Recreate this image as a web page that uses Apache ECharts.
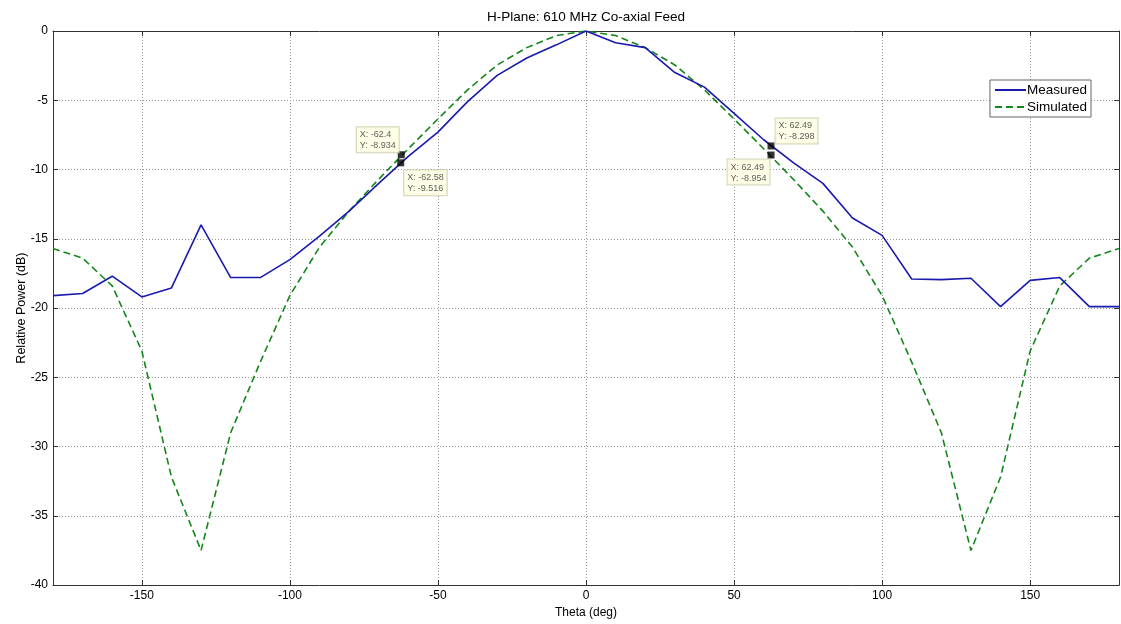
<!DOCTYPE html>
<html><head><meta charset="utf-8">
<script src="https://cdn.jsdelivr.net/npm/echarts@6/dist/echarts.min.js"></script>
<style>html,body{margin:0;padding:0;background:#fff}#c{width:1121px;height:624px}</style>
</head><body><div id="c"></div>
<script>
// ---- data ----
const theta = [-180,-170,-160,-150,-140,-130,-120,-110,-100,-90,-80,-70,-60,-50,-40,-30,-20,-10,0,10,20,30,40,50,60,70,80,90,100,110,120,130,140,150,160,170,180];
const measured = [-19.1,-18.95,-17.7,-19.2,-18.55,-14.0,-17.8,-17.8,-16.5,-14.8,-13.0,-11.0,-9.05,-7.3,-5.1,-3.2,-1.95,-1.0,0,-0.85,-1.2,-3.0,-4.05,-5.95,-7.85,-9.5,-11.0,-13.5,-14.75,-17.9,-17.95,-17.85,-19.9,-18.0,-17.8,-19.9,-19.9];
const simulated = [-15.7,-16.4,-18.4,-23.1,-32.2,-37.5,-29.0,-23.9,-19.1,-15.6,-13.0,-10.7,-8.5,-6.35,-4.25,-2.45,-1.2,-0.33,0,-0.33,-1.2,-2.45,-4.25,-6.35,-8.5,-10.7,-13.0,-15.6,-19.1,-23.9,-29.0,-37.5,-32.2,-23.1,-18.4,-16.4,-15.7];
const xTicks = [-150,-100,-50,0,50,100,150];
const yTicks = [-40,-35,-30,-25,-20,-15,-10,-5,0];
const tipX = [-62.4,-62.58,62.49,62.49];
const tipY = [-8.934,-9.516,-8.298,-8.954];

// ---- styling ----
const FONT = "'Liberation Sans', Arial, Helvetica, sans-serif";
const tipPlace = [[-41,-24],[7,11],[8,-24],[-40,8]];
const gridLine = {show:true, lineStyle:{color:'#9a9a9a', width:1, type:[1,2]}};
const axisLineStyle = {show:true, onZero:false, lineStyle:{color:'#333', width:1}};

const chart = echarts.init(document.getElementById('c'), null, {renderer:'canvas'});
const pair = (xs, ys) => xs.map((x,i)=>[x, ys[i]]);

chart.setOption({
  animation:false,
  backgroundColor:'#fff',
  textStyle:{fontFamily:FONT},
  title:{text:'H-Plane: 610 MHz Co-axial Feed', left:581, textAlign:'center', top:5,
    textStyle:{fontFamily:FONT, fontSize:13.5, fontWeight:'normal', color:'#000'}},
  grid:{left:53, right:2, top:31, bottom:37, containLabel:false},
  legend:{orient:'vertical', right:30, top:80, backgroundColor:'#fff', borderColor:'#666', borderWidth:1,
    padding:[3,4,3,4], itemGap:3, itemWidth:31, itemHeight:10,
    itemStyle:{opacity:0},
    textStyle:{fontFamily:FONT, fontSize:13.5, color:'#000', padding:[0,0,0,-4]},
    data:['Measured','Simulated']},
  xAxis:[{
    type:'value', min:-180, max:180, position:'bottom',
    name:'Theta (deg)', nameLocation:'middle', nameGap:19,
    nameTextStyle:{fontFamily:FONT, fontSize:12, color:'#000'},
    axisLine:axisLineStyle,
    axisTick:{show:true, inside:true, length:5, customValues:xTicks, lineStyle:{color:'#333'}},
    axisLabel:{show:true, customValues:xTicks, fontFamily:FONT, fontSize:12, color:'#000', margin:5},
    splitLine:gridLine
  },{
    type:'value', min:-180, max:180, position:'top',
    axisLine:axisLineStyle,
    axisTick:{show:true, inside:true, length:5, customValues:xTicks, lineStyle:{color:'#333'}},
    axisLabel:{show:false}, splitLine:{show:false}
  }],
  yAxis:[{
    type:'value', min:-40, max:0, interval:5, position:'left',
    name:'Relative Power (dB)', nameLocation:'middle', nameGap:25, nameMoveOverlap:false,
    nameTextStyle:{fontFamily:FONT, fontSize:12.5, color:'#000'},
    axisLine:axisLineStyle,
    axisTick:{show:true, inside:true, length:5, lineStyle:{color:'#333'}},
    axisLabel:{show:true, fontFamily:FONT, fontSize:12, color:'#000', margin:5},
    splitLine:gridLine
  },{
    type:'value', min:-40, max:0, interval:5, position:'right',
    axisLine:axisLineStyle,
    axisTick:{show:true, inside:true, length:5, lineStyle:{color:'#333'}},
    axisLabel:{show:false}, splitLine:{show:false}
  }],
  series:[
    {name:'Measured', type:'line', data:pair(theta, measured), symbol:'none', smooth:false,
      lineStyle:{color:'#1a1ab0', width:1.6}, itemStyle:{color:'#1a1ab0'}, z:3},
    {name:'Simulated', type:'line', data:pair(theta, simulated), symbol:'none', smooth:false,
      lineStyle:{color:'#13861a', width:1.6, type:[7,4]}, itemStyle:{color:'#13861a'}, z:2},
    {name:'tips', type:'scatter', symbol:'rect', symbolSize:7, z:5,
      itemStyle:{color:'#000'},
      data: tipX.map((x,i)=>({
        value:[x, tipY[i]],
        label:{show:true, formatter:'X: '+x+'\nY: '+tipY[i], position:tipPlace[i],
          align:'left', verticalAlign:'top',
          fontFamily:FONT, fontSize:9, lineHeight:11, color:'#333',
          backgroundColor:'#ffffe3', borderColor:'#c9c9a8', borderWidth:1, padding:[2,3,1,3]}
      }))}
  ]
});
</script></body></html>
